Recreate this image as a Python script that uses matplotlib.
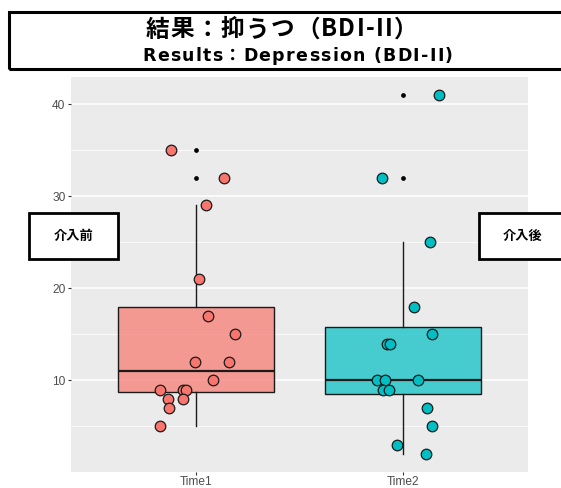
import numpy as np
import matplotlib
matplotlib.use("Agg")
import matplotlib.pyplot as plt
from matplotlib.patches import Rectangle

plt.rcParams['font.family'] = ['Liberation Sans', 'Noto Sans CJK JP', 'DejaVu Sans']

# BDI-II スコア（時点ごと）
groups = ["Time1", "Time2"]
time1 = [35, 32, 29, 21, 17, 15, 12, 12, 10, 9, 9, 9, 8, 8, 7, 5]
time2 = [41, 32, 25, 18, 15, 14, 14, 10, 10, 10, 9, 9, 7, 5, 3, 2]

# ジッターのずれ（固定）
jit1 = [-0.12, 0.135, 0.05, 0.015, 0.06, 0.19, -0.005, 0.16, 0.085,
        -0.17, -0.06, -0.045, -0.135, -0.06, -0.13, -0.17]
jit2 = [0.17, -0.105, 0.13, 0.05, 0.14, -0.077, -0.062, -0.125, -0.09, 0.07,
        -0.10, -0.067, 0.115, 0.14, -0.03, 0.11]

fills = ["#F8766D", "#00BFC4"]

W, H = 561, 488
fig = plt.figure(figsize=(W / 100, H / 100), dpi=100)
ax = fig.add_axes([71 / W, 1 - 472 / H, (528 - 71) / W, (472 - 77) / H])
ax.set_facecolor("#EBEBEB")

bp = ax.boxplot([time1, time2], positions=[1, 2], widths=0.75, whis=1.5,
                patch_artist=True, showcaps=False, zorder=2,
                boxprops=dict(edgecolor="#1a1a1a", linewidth=1.0),
                medianprops=dict(color="#1a1a1a", linewidth=1.6),
                whiskerprops=dict(color="#1a1a1a", linewidth=1.0),
                flierprops=dict(marker="o", markersize=2.4, markerfacecolor="black",
                                markeredgecolor="black", linestyle="none"))
for patch, c in zip(bp["boxes"], fills):
    patch.set_facecolor(matplotlib.colors.to_rgba(c, 0.7))

for i, (vals, jit, c) in enumerate([(time1, jit1, fills[0]), (time2, jit2, fills[1])]):
    xs = np.array(jit) + i + 1
    ax.scatter(xs, vals, s=58, facecolor=c, edgecolor="#1a1a1a", linewidth=0.9, zorder=3)

ax.set_xlim(0.4, 2.6)
ax.set_ylim(0.05, 42.95)
ax.set_xticks([1, 2])
ax.set_xticklabels(groups)
ax.set_yticks([10, 20, 30, 40])
ax.set_yticks([5, 15, 25, 35], minor=True)
ax.grid(axis="y", which="major", color="white", linewidth=1.1)
ax.grid(axis="y", which="minor", color="white", linewidth=0.55)
ax.set_axisbelow(True)
ax.tick_params(axis="both", which="major", length=2.5, width=0.8, color="#333333",
               labelcolor="#4D4D4D", labelsize=8.6, pad=1.5)
ax.tick_params(axis="x", which="major", pad=0.5)
ax.tick_params(axis="y", which="minor", length=0)
for s in ax.spines.values():
    s.set_visible(False)


def spaced_text(s, x_left, x_right, y_base, **kw):
    # 文字ごとに配置して字間を広げる
    r = fig.canvas.get_renderer()
    widths = []
    for ch in s:
        if ch == " ":
            widths.append(kw["fontsize"] * 100 / 72 * 0.3)
            continue
        t = fig.text(0, 0, ch, **kw)
        widths.append(t.get_window_extent(renderer=r).width)
        t.remove()
    gap = (x_right - x_left - sum(widths)) / (len(s) - 1)
    x = x_left
    for ch, w in zip(s, widths):
        if ch != " ":
            fig.text(x / W, 1 - y_base / H, ch, ha="left", va="baseline", **kw)
        x += w + gap


# タイトル枠
fig.patches.append(Rectangle((9 / W, 1 - 69 / H), 0.99, (69 - 12) / H,
                             transform=fig.transFigure, fill=False,
                             edgecolor="black", linewidth=2.2, clip_on=False))
spaced_text("結果：抑うつ（BDI-II）", 146, 418, 36.5, fontsize=17, fontweight="bold",
            family=['Noto Sans CJK JP', 'DejaVu Sans'])
spaced_text("Results：Depression (BDI-II)", 142, 453, 61, fontsize=12.5,
            fontweight="bold", family=['DejaVu Sans', 'Noto Sans CJK JP'])

# 介入前・介入後のラベル
for x0, w, label, tx in [(29, 89, "介入前", 74), (479, 100, "介入後", 523)]:
    fig.patches.append(Rectangle((x0 / W, 1 - 259 / H), w / W, 46 / H,
                                 transform=fig.transFigure, facecolor="white",
                                 edgecolor="black", linewidth=2.0, zorder=5))
    fig.text(tx / W, 1 - 236 / H, label, ha="center", va="center",
             fontsize=9.5, fontweight="bold", zorder=6,
             family=['Noto Sans CJK JP', 'DejaVu Sans'])

fig.savefig("out.png", dpi=100)
